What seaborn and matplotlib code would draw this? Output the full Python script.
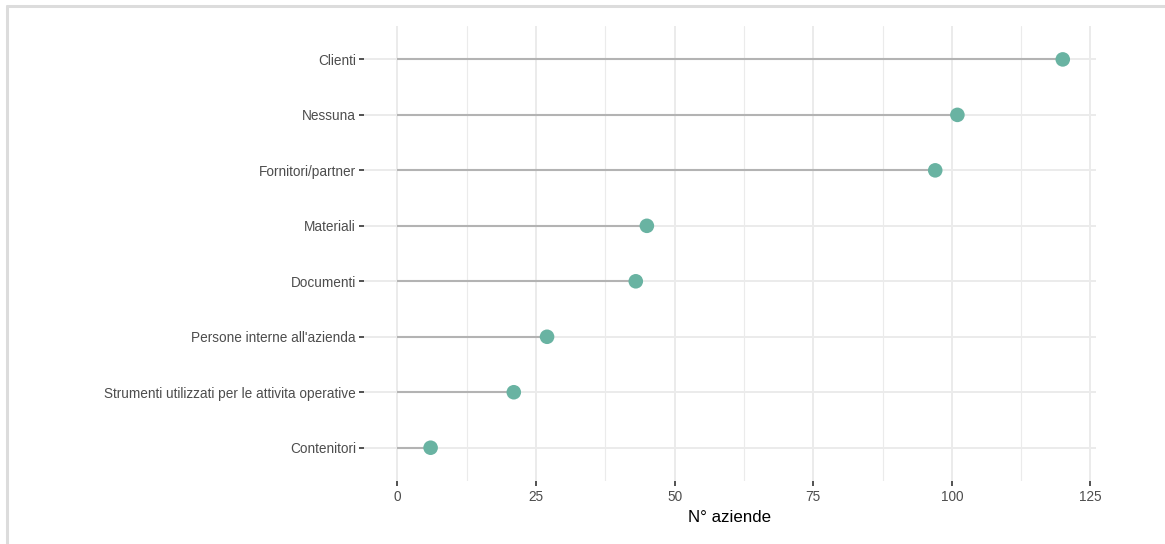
import matplotlib
matplotlib.use("Agg")
import matplotlib.pyplot as plt
from matplotlib.lines import Line2D
from matplotlib.ticker import MultipleLocator
import seaborn as sns
import pandas as pd

categories = [
    "Clienti",
    "Nessuna",
    "Fornitori/partner",
    "Materiali",
    "Documenti",
    "Persone interne all'azienda",
    "Strumenti utilizzati per le attivita operative",
    "Contenitori",
]
counts = [120, 101, 97, 45, 43, 27, 21, 6]
x_ticks = [0, 25, 50, 75, 100, 125]

df = pd.DataFrame({"categoria": categories, "n": counts})

sns.set_theme(style="whitegrid")
plt.rcParams["font.family"] = ["Liberation Sans", "DejaVu Sans"]

fig = plt.figure(figsize=(11.65, 5.44), dpi=100)
ax = fig.add_axes([0.3125, 0.1158, 0.6283, 0.8362])
ax.set_facecolor("white")

ypos = list(range(len(categories)))
ax.hlines(y=ypos, xmin=0, xmax=df["n"], color="#b3b3b3", linewidth=1.5, zorder=2)
sns.scatterplot(data=df, x="n", y="categoria", ax=ax, color="#69b3a2",
                s=110, edgecolor="none", zorder=3)

ax.set_xlim(-6, 126)
ax.set_ylim(len(categories) - 0.4, -0.6)
ax.set_xticks(x_ticks)
ax.xaxis.set_minor_locator(MultipleLocator(12.5))
ax.grid(which="major", color="#ebebeb", linewidth=1.4, zorder=0)
ax.grid(which="minor", axis="x", color="#ebebeb", linewidth=0.8, zorder=0)
ax.set_axisbelow(True)
for s in ax.spines.values():
    s.set_visible(False)

ax.tick_params(axis="both", which="major", bottom=True, left=True,
               length=3.5, width=1.2, color="#333333",
               labelsize=9.8, labelcolor="#4d4d4d", pad=3)
ax.tick_params(axis="y", which="major", pad=2.3)
ax.tick_params(axis="both", which="minor", length=0)
ax.set_xlabel("N° aziende", fontsize=12.2, color="black", labelpad=4)
ax.set_ylabel("")

# outer frame lines
fig.add_artist(Line2D([6.5 / 1165, 1.0], [1 - 5.5 / 544] * 2, transform=fig.transFigure,
                      color="#dcdcdc", linewidth=2.2))
fig.add_artist(Line2D([7 / 1165] * 2, [0.0, 1 - 5.5 / 544], transform=fig.transFigure,
                      color="#dcdcdc", linewidth=2.2))

fig.savefig("out.png", dpi=100, facecolor="white")
